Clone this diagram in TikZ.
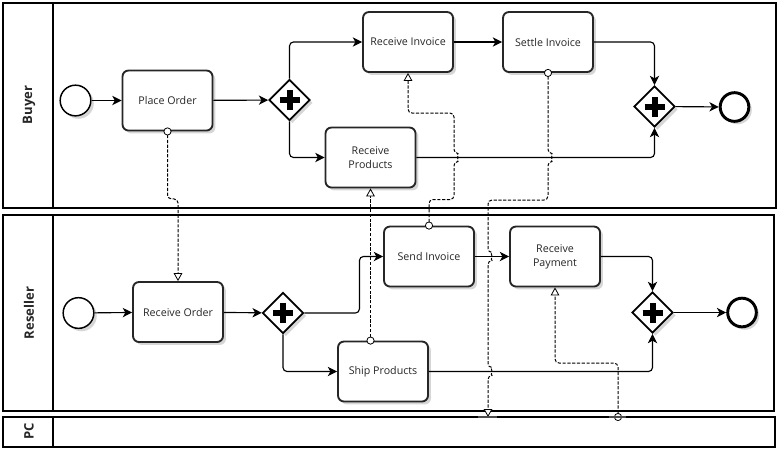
\documentclass[tikz,border=0pt]{standalone}
\usepackage{fontspec}
\setmainfont{Open Sans}
\usetikzlibrary{arrows.meta,shapes.geometric,shadows,calc}
\begin{document}
\begin{tikzpicture}[x=0.75pt,y=-0.75pt,
  font=\fontsize{8}{10.5}\selectfont,
  pool/.style={draw=black, line width=0.8pt},
  poollabel/.style={rotate=90, font=\fontsize{9.8}{11}\selectfont\bfseries, text=black!85},
  softshadow/.style={drop shadow={shadow xshift=2.2pt, shadow yshift=-2.2pt, opacity=0.16, fill=black}},
  task/.style={draw=black!85, line width=1.4pt, rounded corners=4.5pt,
    minimum width=67.5pt, minimum height=45pt, inner sep=1pt, fill=white,
    align=center, text=black!85, softshadow},
  gateway/.style={diamond, draw=black, line width=1.4pt, fill=white,
    minimum size=30.75pt, inner sep=0pt, softshadow,
    path picture={
      \draw[line width=4.5pt] ([xshift=-7.5pt]path picture bounding box.center) -- ++(15pt,0pt);
      \draw[line width=4.5pt] ([yshift=-7.5pt]path picture bounding box.center) -- ++(0pt,15pt);
    }},
  startevent/.style={circle, draw=black, line width=1.1pt, fill=white,
    minimum size=23pt, inner sep=0pt, softshadow},
  endevent/.style={circle, draw=black, line width=2.2pt, fill=white,
    minimum size=21.5pt, inner sep=0pt, softshadow},
  seq/.style={draw=black, line width=0.85pt, rounded corners=3pt,
    -{Stealth[length=7pt, width=7pt, inset=2pt]}},
  msg/.style={draw=black, line width=0.75pt, dash pattern=on 2.4pt off 1.2pt,
    rounded corners=3pt, shorten <=-3pt,
    {Circle[fill=white, length=6pt, line width=0.6pt]}-{Triangle[fill=white, length=6pt, width=6.5pt, line width=0.6pt]}},
  endmark/.style={draw=black!70, line width=1.3pt}
]
\useasboundingbox (0,0) rectangle (780,451);

% pools and their label columns
\draw[pool] (3,3) rectangle (776,208);
\draw[pool] (53,3) -- (53,208);
\draw[pool] (3,215) rectangle (774,411);
\draw[pool] (53,215) -- (53,411);
\draw[pool] (3,417) rectangle (775,447);
\draw[pool] (53,417) -- (53,447);

\node[poollabel] (lbuyer) at (29,105) {Buyer};
\node[poollabel] (lreseller) at (29,313) {Reseller};
\node[poollabel] (lpc) at (29,431) {PC};

% Buyer process
\node[startevent] (bs) at (75.5,100.5) {};
\node[task] (po) at (167.5,100.5) {Place Order};
\node[gateway] (g1) at (289.5,100) {};
\node[task] (ri) at (408,42) {Receive Invoice};
\node[task] (si) at (548,42) {Settle Invoice};
\node[task] (rp) at (370.5,157.5) {Receive\\Products};
\node[gateway] (g2) at (654.5,106.5) {};
\node[endevent] (be) at (734.5,107) {};

% Reseller process
\node[startevent] (rs) at (78.5,313) {};
\node[task] (ro) at (178,312) {Receive Order};
\node[gateway] (g3) at (283,313) {};
\node[task] (sendinv) at (429,256.5) {Send Invoice};
\node[task] (ship) at (383,371.5) {Ship Products};
\node[task] (rpay) at (555,256.5) {Receive\\Payment};
\node[gateway] (g4) at (652.5,312.5) {};
\node[endevent] (re) at (742,312.5) {};

% message ends on the PC pool
\coordinate (pcin) at (488,417);
\coordinate (pcout) at (618,417);

% sequence flows, Buyer
\draw[seq] (bs) -- (po);
\draw[seq] (po) -- (g1);
\draw[seq] (g1.north) |- (ri.west);
\draw[seq] (g1.south) |- (rp.west);
\draw[seq] (ri) -- (si);
\draw[seq] (si.east) -| (g2.north);
\draw[seq] (rp.east) -| (g2.south);
\draw[seq] (g2) -- (be);

% sequence flows, Reseller
\draw[seq] (rs) -- (ro);
\draw[seq] (ro) -- (g3);
\draw[seq] (g3.east) -- ++(55,0) |- (sendinv.west);
\draw[seq] (g3.south) |- (ship.west);
\draw[seq] (sendinv) -- (rpay);
\draw[seq] (rpay.east) -| (g4.north);
\draw[seq] (ship.east) -| (g4.south);
\draw[seq] (g4) -- (re);

% message flows
\draw[msg] (po.south) -- ++(0,67.5) -| (ro.north);
\draw[msg] (sendinv.north) -- ++(0,-26) -| (454,161.5)
  arc[start angle=-90, end angle=90, radius=3pt] -- (454,113) -| (ri.south);
\draw[msg] (rp.south |- ship.north) -- (rp.south);
\draw[msg] (si.south) -- (548,153.5) arc[start angle=90, end angle=-90, radius=3pt]
  -- (548,200) -| (488,252.5) arc[start angle=90, end angle=-90, radius=3pt]
  -- (488,367.5) arc[start angle=90, end angle=-90, radius=3pt] -- (pcin);
\draw[msg] (pcout) -- (618,363) -| (rpay.south);

% attachment marks on the PC pool border
\draw[endmark] (478,417) -- (497,417);
\draw[endmark] (609,417) -- (626,417);
\end{tikzpicture}
\end{document}
